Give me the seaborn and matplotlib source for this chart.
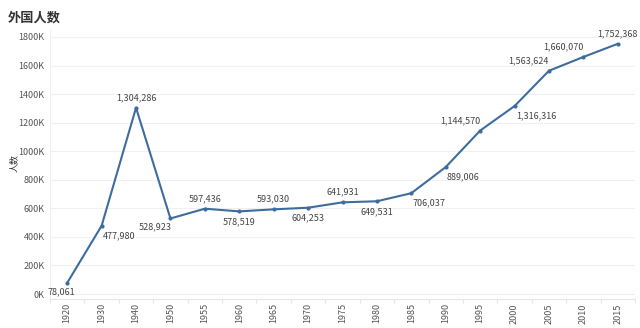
import matplotlib
matplotlib.use("Agg")
import matplotlib.pyplot as plt
import seaborn as sns
import numpy as np
import pandas as pd
from matplotlib.ticker import FuncFormatter, MultipleLocator, FixedLocator

years = ["1920", "1930", "1940", "1950", "1955", "1960", "1965", "1970", "1975",
         "1980", "1985", "1990", "1995", "2000", "2005", "2010", "2015"]
counts = [78061, 477980, 1304286, 528923, 597436, 578519, 593030, 604253, 641931,
          649531, 706037, 889006, 1144570, 1316316, 1563624, 1660070, 1752368]
label_pos = ["belowleft", "belowright", "above", "belowleft", "above", "below", "above",
             "below", "above", "below", "belowright", "belowright", "aboveleft",
             "belowright", "aboveleft", "aboveleft", "above"]

title = "外国人数"
ylabel = "人数"

sns.set_theme(style="white")
plt.rcParams['font.family'] = ['Noto Sans CJK SC', 'DejaVu Sans']

fig = plt.figure(figsize=(6.4, 3.28), dpi=100)
ax = fig.add_axes([50/640, 29/328, 585/640, 269/328])

df = pd.DataFrame({"idx": np.arange(len(years)), "count": counts})
color = "#3E6C9F"
sns.lineplot(data=df, x="idx", y="count", ax=ax, color=color, linewidth=1.5,
             marker="o", markersize=3, markeredgewidth=0)

ax.set_xlim(-0.5, len(years) - 0.5)
ax.set_ylim(-35000, 1849000)
ax.yaxis.set_major_locator(MultipleLocator(200000))
ax.yaxis.set_major_formatter(FuncFormatter(lambda v, p: f"{int(round(v/1000))}K"))
ax.set_xticks(np.arange(len(years)))
ax.set_xticklabels(years, rotation=90, fontsize=6.5, color="#555555")
ax.xaxis.set_minor_locator(FixedLocator(np.arange(len(years) + 1) - 0.5))
ax.tick_params(axis="x", which="major", length=0, pad=3)
ax.tick_params(axis="x", which="minor", length=3, color="#e6e6e6", width=0.8, bottom=True)
ax.tick_params(axis="y", length=0, labelsize=6.5, labelcolor="#555555", pad=4)
ax.grid(axis="y", color="#f0f0f0", linewidth=0.8)
for s in ["top", "right"]:
    ax.spines[s].set_visible(False)
ax.spines["left"].set_color("#f0f0f0")
ax.spines["bottom"].set_color("#e6e6e6")
ax.spines["left"].set_linewidth(0.8)
ax.spines["bottom"].set_linewidth(0.8)
ax.set_xlabel("")
ax.set_ylabel("")

offsets = {
    "above": ((0, 4), "center", "bottom"),
    "aboveleft": ((0, 4), "right", "bottom"),
    "below": ((0, -4), "center", "top"),
    "belowright": ((1, -4), "left", "top"),
    "belowleft": ((1, -3), "right", "top"),
}
for i, (v, pos) in enumerate(zip(counts, label_pos)):
    (dx, dy), ha, va = offsets[pos]
    if pos == "belowleft" and i == 0:
        dx, ha = (6, "right")
    ax.annotate(f"{v:,}", (i, v), xytext=(dx, dy), textcoords="offset points",
                ha=ha, va=va, fontsize=6.5, color="#444444")

fig.text(8/640, 1 - 18/328, title, fontsize=9.5, fontweight="bold", color="#333333",
         ha="left", va="center")
fig.text(14/640, 1 - 163/328, ylabel, fontsize=6.5, color="#333333", rotation=90,
         ha="center", va="center")

fig.savefig("out.png", dpi=100)
